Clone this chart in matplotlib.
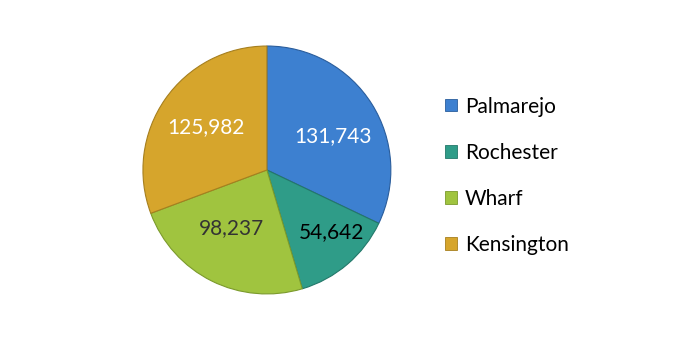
import matplotlib
matplotlib.use('Agg')
import matplotlib.pyplot as plt
from matplotlib.patches import Patch
import numpy as np

plt.rcParams['font.family'] = ['Lato', 'DejaVu Sans']

mines = ['Palmarejo', 'Rochester', 'Wharf', 'Kensington']
values = [131743, 54642, 98237, 125982]
value_labels = ['131,743', '54,642', '98,237', '125,982']

colors = ['#3d80d0', '#2f9c88', '#a0c43f', '#d6a52c']
edges = ['#2a5d9c', '#23786a', '#7b9a2c', '#a67f1e']
text_colors = ['white', 'black', '#333333', 'white']

fig = plt.figure(figsize=(6.87, 3.41), dpi=100)
ax = fig.add_axes([0.208, 0.138, 0.361, 0.727])

wedges, _ = ax.pie(values, colors=colors, startangle=90, counterclock=False,
                   wedgeprops=dict(linewidth=0.8))
for w, ec in zip(wedges, edges):
    w.set_edgecolor(ec)

# label placement (radius fraction, angle in degrees), like Excel's best fit
label_pos = [(0.60, 27), (0.72, -44), (0.55, -121), (0.60, 145)]
for (r, a), txt, tc in zip(label_pos, value_labels, text_colors):
    ang = np.radians(a)
    ax.text(r * np.cos(ang), r * np.sin(ang), txt, ha='center', va='center',
            fontsize=15, color=tc)
ax.set_xlim(-1, 1)
ax.set_ylim(-1, 1)
ax.set_aspect('equal')

handles = [Patch(facecolor=c, edgecolor=e, linewidth=0.6) for c, e in zip(colors, edges)]
fig.legend(handles, mines, loc='center left', bbox_to_anchor=(0.648, 0.485),
           frameon=False, fontsize=15, handlelength=0.55, handleheight=0.55,
           handletextpad=0.4, labelspacing=1.25, borderaxespad=0, borderpad=0)

fig.savefig('out.png', dpi=100)
